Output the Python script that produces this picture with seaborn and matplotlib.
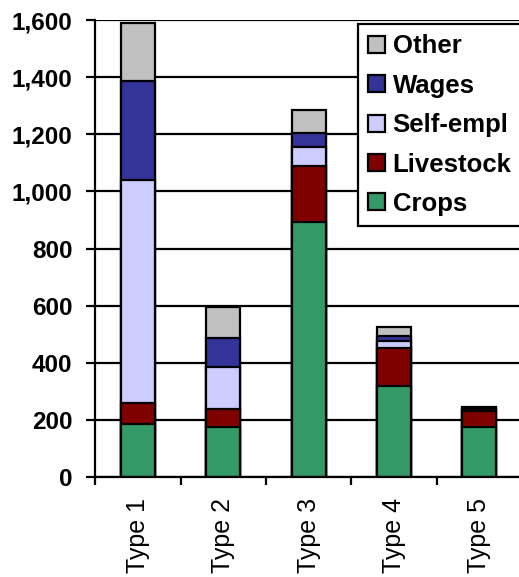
import matplotlib
matplotlib.use("Agg")
import numpy as np
import matplotlib.pyplot as plt
import seaborn as sns
from matplotlib.patches import Patch
from matplotlib.ticker import FuncFormatter

# Data
types = ['Type 1', 'Type 2', 'Type 3', 'Type 4', 'Type 5']
crops = [186, 175, 895, 321, 177]
livestock = [73, 65, 193, 133, 55]
self_empl = [781, 146, 69, 24, 5]
wages = [348, 103, 47, 16, 5]
other = [202, 107, 80, 33, 5]

# bottom -> top
layers = [('Crops', crops, '#339966'),
          ('Livestock', livestock, '#800000'),
          ('Self-empl', self_empl, '#CCCCFF'),
          ('Wages', wages, '#333399'),
          ('Other', other, '#C0C0C0')]

sns.set_theme(style="ticks")
plt.rcParams['font.family'] = ['Liberation Sans', 'DejaVu Sans']
plt.rcParams['text.color'] = 'black'
plt.rcParams['xtick.color'] = 'black'
plt.rcParams['ytick.color'] = 'black'
plt.rcParams['xtick.labelcolor'] = 'black'
plt.rcParams['ytick.labelcolor'] = 'black'

fig = plt.figure(figsize=(5.19, 5.77), dpi=100)
ax = fig.add_axes([0.1836, 0.1728, 0.822, 0.7925])

# cumulative totals, drawn from the tallest down so each layer sits on top
cum = np.cumsum([np.array(v) for _, v, _ in layers], axis=0)
handles = []
for i in range(len(layers) - 1, -1, -1):
    name, _, color = layers[i]
    sns.barplot(x=types, y=cum[i], color=color, width=0.4,
                edgecolor='black', linewidth=1.6, saturation=1, ax=ax)
    handles.append(Patch(facecolor=color, edgecolor='black', linewidth=1.6, label=name))

ax.set_ylim(0, 1600)
ax.set_xlim(-0.5, 4.5)
ax.set_yticks(range(0, 1601, 200))
ax.yaxis.set_major_formatter(FuncFormatter(lambda v, p: f'{int(v):,}'))
ax.yaxis.grid(True, color='black', linewidth=1.6)
ax.set_axisbelow(True)

# category ticks sit on the boundaries, labels in between
ax.set_xticks(np.arange(-0.5, 5, 1))
ax.set_xticklabels([])
ax.set_xticks(range(5), minor=True)
ax.set_xticklabels(types, minor=True, rotation=90, fontsize=18, color='black')
ax.tick_params(axis='x', which='major', length=6, width=1.6, color='black')
ax.tick_params(axis='x', which='minor', length=0, pad=15)
ax.tick_params(axis='y', length=6.5, width=1.6, color='black', labelcolor='black',
               pad=10, labelsize=17.5)
for lab in ax.get_yticklabels():
    lab.set_fontweight('bold')
ax.set_xlabel('')
ax.set_ylabel('')

for s in ['left', 'bottom']:
    ax.spines[s].set_linewidth(1.6)
    ax.spines[s].set_color('black')
ax.spines['top'].set_visible(False)
ax.spines['right'].set_visible(False)

leg = ax.legend(handles=handles, loc='upper left',
                bbox_to_anchor=(358 / 519, 1 - 24 / 577), bbox_transform=fig.transFigure,
                borderaxespad=0, prop={'weight': 'bold', 'size': 18.5},
                handlelength=0.65, handleheight=0.65, handletextpad=0.3,
                labelspacing=0.6, borderpad=0.4, fancybox=False, framealpha=1)
leg.get_frame().set_edgecolor('black')
leg.get_frame().set_linewidth(1.6)
for t in leg.get_texts():
    t.set_color('black')

fig.savefig('out.png', dpi=100)
